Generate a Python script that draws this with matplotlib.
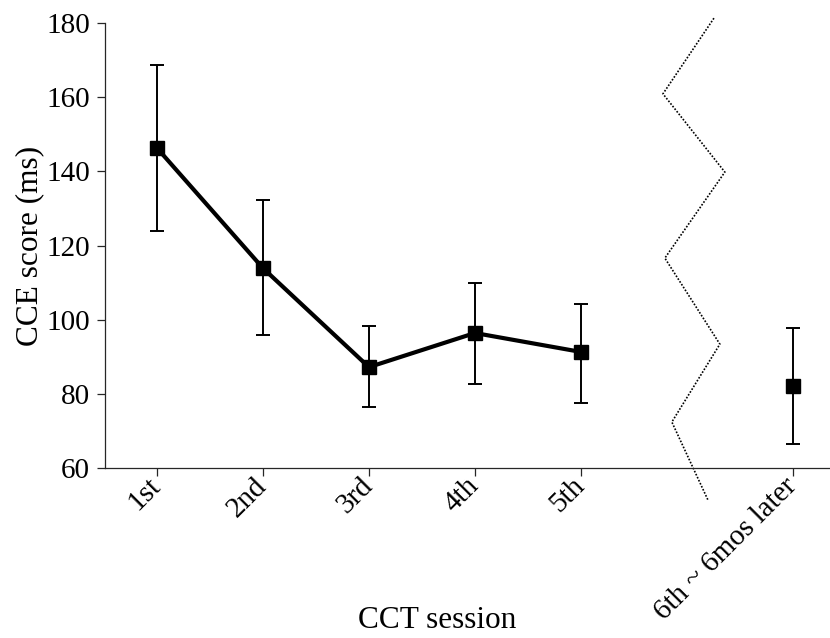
import matplotlib

matplotlib.use("Agg")
import matplotlib.pyplot as plt

# session labels and positions (6 is left empty for the break)
sessions = ["1st", "2nd", "3rd", "4th", "5th", "6th ~ 6mos later"]
x_train = [1, 2, 3, 4, 5]
x_follow = [7]

# CCE score (ms) with error bars
mean_train = [146.3, 113.9, 87.2, 96.4, 91.3]
upper_train = [168.7, 132.3, 98.3, 109.9, 104.3]
lower_train = [123.9, 95.9, 76.4, 82.6, 77.5]
mean_follow = [82.2]
upper_follow = [97.8]
lower_follow = [66.6]

# dotted zigzag break marker
break_x = [6.255, 5.774, 6.358, 5.792, 6.311, 5.858, 6.198]
break_y = [181.3, 160.9, 139.8, 116.6, 93.4, 72.4, 51.4]

plt.rcParams["font.family"] = ["Liberation Serif", "DejaVu Serif"]

fig = plt.figure(figsize=(8.3, 6.38), dpi=100)
ax = fig.add_axes([105 / 830, 170 / 638, 725 / 830, 445 / 638])

err_train = [[m - lo for m, lo in zip(mean_train, lower_train)],
             [hi - m for m, hi in zip(mean_train, upper_train)]]
err_follow = [[m - lo for m, lo in zip(mean_follow, lower_follow)],
              [hi - m for m, hi in zip(mean_follow, upper_follow)]]

ax.errorbar(x_train, mean_train, yerr=err_train, color="black", lw=3.0,
            marker="s", markersize=10, ecolor="black", elinewidth=1.4,
            capsize=5, capthick=1.4)
ax.errorbar(x_follow, mean_follow, yerr=err_follow, color="black", lw=0,
            marker="s", markersize=10, ecolor="black", elinewidth=1.4,
            capsize=5, capthick=1.4)
ax.plot(break_x, break_y, color="black", lw=1.2, ls=(0, (1, 1)), clip_on=False)

ax.set_xlim(0.51, 7.35)
ax.set_ylim(60, 180)
ax.set_yticks([60, 80, 100, 120, 140, 160, 180])
ax.set_xticks(x_train + x_follow)
ax.set_xticklabels(sessions, rotation=45, ha="right", va="center",
                   rotation_mode="anchor")

for side in ("top", "right"):
    ax.spines[side].set_visible(False)
for side in ("left", "bottom"):
    ax.spines[side].set_color("#262626")
    ax.spines[side].set_linewidth(0.9)
ax.tick_params(direction="out", length=6, width=0.9, color="#262626",
               labelsize=21, pad=5)
ax.tick_params(axis="x", labelsize=21, pad=4)

ax.set_ylabel("CCE score (ms)", fontsize=22.5)
ax.yaxis.set_label_coords(-61 / 725, 0.5)
ax.set_xlabel("CCT session", fontsize=22.5)
ax.xaxis.set_label_coords(332 / 725, -138 / 445)

fig.savefig("out.png", dpi=100)
